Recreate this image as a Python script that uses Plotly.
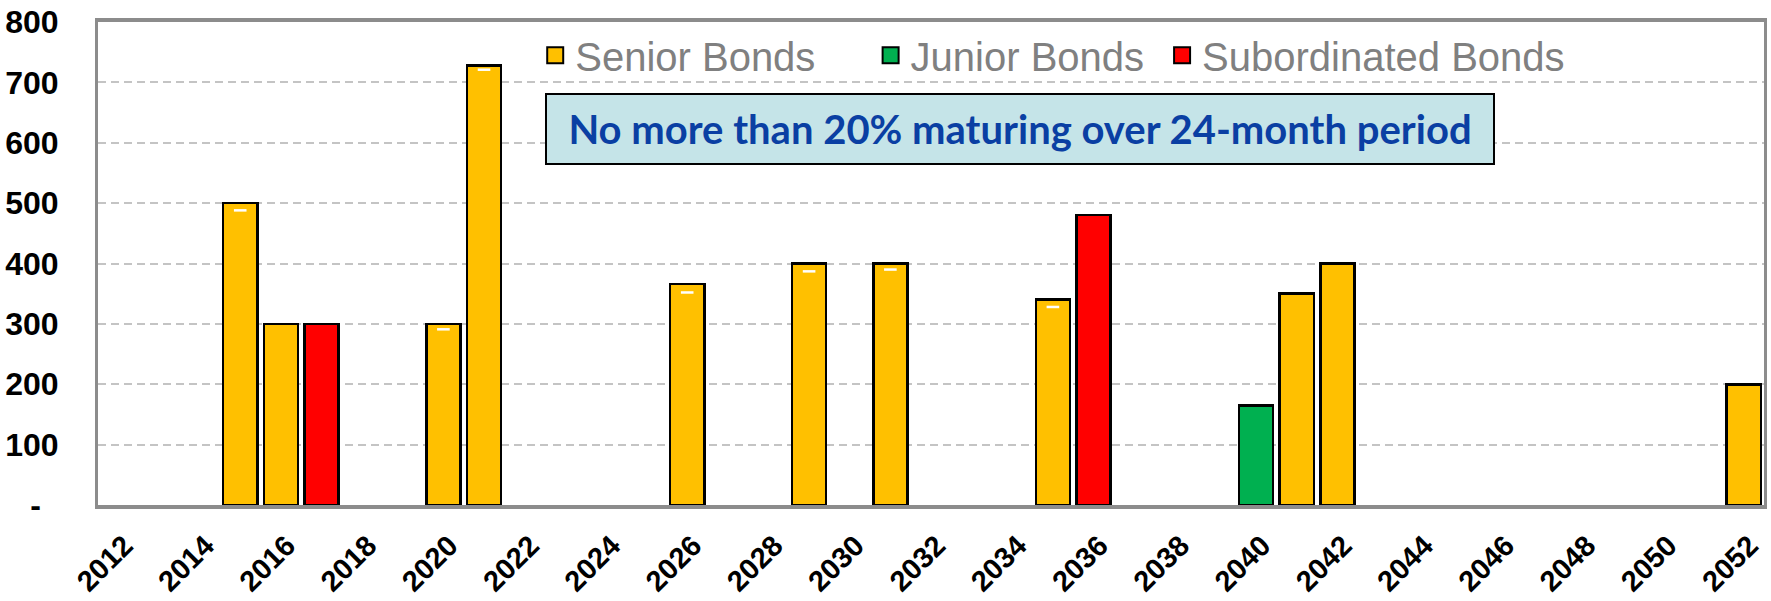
import plotly.graph_objects as go

# ---- data ----
years = ["2012", "2013", "2014", "2015", "2016", "2017", "2018", "2019", "2020", "2021",
         "2022", "2023", "2024", "2025", "2026", "2027", "2028", "2029", "2030", "2031",
         "2032", "2033", "2034", "2035", "2036", "2037", "2038", "2039", "2040", "2041",
         "2042", "2043", "2044", "2045", "2046", "2047", "2048", "2049", "2050", "2051",
         "2052"]
tick_years = ["2012", "2014", "2016", "2018", "2020", "2022", "2024", "2026", "2028", "2030",
              "2032", "2034", "2036", "2038", "2040", "2042", "2044", "2046", "2048", "2050",
              "2052"]

senior_years = ["2015", "2016", "2020", "2021", "2026", "2029", "2031", "2035", "2041", "2042", "2052"]
senior_values = [500, 300, 300, 728, 366, 400, 400, 340, 350, 400, 200]

junior_years = ["2040"]
junior_values = [165]

sub_years = ["2017", "2036"]
sub_values = [300, 480]

# small white marks drawn inside some senior bars
mark_years = ["2015", "2020", "2021", "2026", "2029", "2031", "2035"]
mark_values = [488, 291, 721, 352, 387, 390, 328]

y_tickvals = [0, 100, 200, 300, 400, 500, 600, 700, 800]
y_ticktext = ["-\u00a0\u00a0", "100", "200", "300", "400", "500", "600", "700", "800"]

annotation_text = "No more than 20% maturing over 24-month period"

# ---- styling ----
SENIOR = "#FFC000"
JUNIOR = "#00B050"
SUB = "#FF0000"
W, H = 1771, 601
ML, MR, MT, MB = 98, 4, 22, 85
PW = W - ML - MR
PH = H - MT - MB


def px_x(p):
    return (p - ML) / PW


def px_y(p):
    return (H - MB - p) / PH


fig = go.Figure()

series = [
    ("Senior Bonds", senior_years, senior_values, SENIOR, "legend"),
    ("Junior Bonds", junior_years, junior_values, JUNIOR, "legend2"),
    ("Subordinated Bonds", sub_years, sub_values, SUB, "legend3"),
]

for name, xs, ys, col, lg in series:
    fig.add_trace(go.Bar(
        x=xs, y=ys, name=name, legendgroup=name, showlegend=False,
        marker=dict(color=col, line=dict(color="black", width=2.5)),
    ))
    fig.add_trace(go.Scatter(
        x=[None], y=[None], name=name, legendgroup=name, legend=lg,
        mode="markers",
        marker=dict(symbol="square", size=16, color=col, line=dict(color="black", width=2)),
    ))

fig.add_trace(go.Scatter(
    x=mark_years, y=mark_values, mode="markers", showlegend=False, hoverinfo="skip",
    marker=dict(symbol="line-ew", size=9, line=dict(color="white", width=2.5)),
))

legend_font = dict(family="Liberation Sans, Arial, sans-serif", size=40, color="#808080")
leg_common = dict(orientation="h", xanchor="left", yanchor="middle",
                  font=legend_font, bgcolor="rgba(0,0,0,0)", borderwidth=0)

fig.update_layout(
    width=W, height=H,
    margin=dict(l=ML, r=MR, t=MT, b=MB),
    paper_bgcolor="white", plot_bgcolor="white",
    barmode="stack", bargap=0.16,
    legend=dict(x=px_x(536), y=px_y(56), **leg_common),
    legend2=dict(x=px_x(872), y=px_y(56), **leg_common),
    legend3=dict(x=px_x(1164), y=px_y(56), **leg_common),
    xaxis=dict(
        type="category", categoryorder="array", categoryarray=years,
        range=[-0.5, len(years) - 0.5],
        tickmode="array", tickvals=tick_years, ticktext=tick_years,
        tickangle=-45,
        tickfont=dict(family="Liberation Sans, Arial, sans-serif", size=29, color="black", weight="bold"),
        showgrid=False, zeroline=False,
        showline=True, linecolor="#8C8C8C", linewidth=4, mirror=True,
        ticks="", ticklabelshift=6, ticklabelstandoff=8,
    ),
    yaxis=dict(
        range=[0, 800],
        tickmode="array", tickvals=y_tickvals, ticktext=y_ticktext,
        tickfont=dict(family="Liberation Sans, Arial, sans-serif", size=32, color="black", weight="bold"),
        showgrid=True, gridcolor="#C4C4C4", gridwidth=2, griddash="8px,5px",
        zeroline=False,
        showline=True, linecolor="#8C8C8C", linewidth=3, mirror=True,
        ticks="", ticklabelstandoff=30,
    ),
    annotations=[dict(
        xref="paper", yref="paper",
        x=px_x(1022), y=px_y(131), xanchor="center", yanchor="middle",
        text="<b>" + annotation_text + "</b>",
        showarrow=False,
        font=dict(family="Lato, Carlito, sans-serif", size=40, color="#0A3FA3"),
        bgcolor="#C5E4E8", bordercolor="black", borderwidth=2, borderpad=0,
        width=946, height=68, align="center", valign="middle",
    )],
)

fig.write_html("out.html", config={"displayModeBar": False},
               post_script="document.body.style.margin='0px';")
